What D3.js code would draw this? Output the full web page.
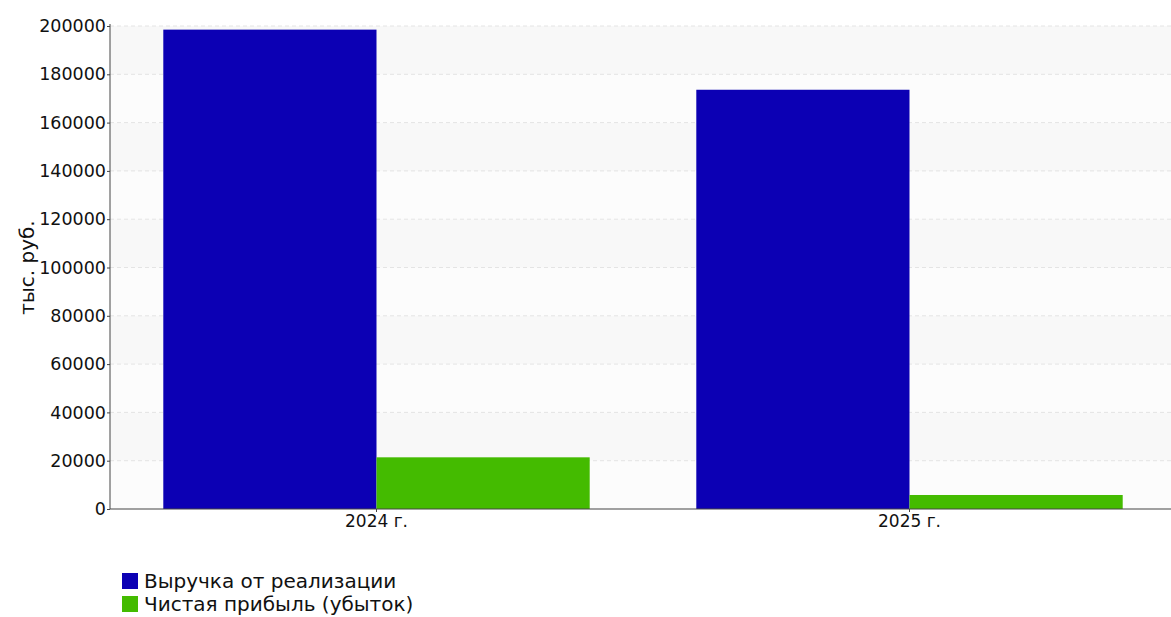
<!DOCTYPE html>
<html>
<head>
<meta charset="utf-8">
<script src="https://cdn.jsdelivr.net/npm/d3@7"></script>
<style>
  body { margin: 0; background: #fff; overflow: hidden; }
  svg { font-family: "DejaVu Sans", sans-serif; display: block; }
</style>
</head>
<body>
<svg id="chart"></svg>
<script>
// data
let years = ["2024 г.", "2025 г."];
let seriesNames = ["Выручка от реализации", "Чистая прибыль (убыток)"];
let revenue = [198500, 173600];
let profit = [21400, 5800];
let yTicks = [0, 20000, 40000, 60000, 80000, 100000, 120000, 140000, 160000, 180000, 200000];
let colors = ["#0c00b4", "#44bb00"];

let chartWidth = 1171;
let chartHeight = 617;
let plotLeft = 110;
let plotTop = 26;
let plotBottom = 509;

let svg = d3.select("#chart").attr("width", chartWidth).attr("height", chartHeight);

let y = d3.scaleLinear().domain([0, 200000]).range([plotBottom, plotTop]);
let x = d3.scaleBand().domain(years).range([plotLeft, 1176]).paddingInner(0.2).paddingOuter(0.1);
let xs = d3.scaleBand().domain(seriesNames).range([0, x.bandwidth()]);

// faint alternating bands
svg.append("g")
  .selectAll("rect")
  .data(yTicks.slice(0, -1))
  .join("rect")
  .attr("x", plotLeft)
  .attr("width", chartWidth - plotLeft)
  .attr("y", (d) => y(d + 20000))
  .attr("height", (d) => y(d) - y(d + 20000))
  .style("fill", (d, i) => (i % 2 ? "#f8f8f8" : "#fcfcfc"));

// gridlines
svg.append("g")
  .selectAll("line")
  .data(yTicks.slice(1))
  .join("line")
  .attr("x1", plotLeft)
  .attr("x2", chartWidth)
  .attr("y1", (d) => y(d))
  .attr("y2", (d) => y(d))
  .style("stroke", "#e4e4e4")
  .style("stroke-dasharray", "4,3");

let rows = years.map((yr, i) => ({ year: yr, values: [revenue[i], profit[i]] }));

svg.append("g")
  .selectAll("g")
  .data(rows)
  .join("g")
  .attr("transform", (d) => `translate(${x(d.year)},0)`)
  .selectAll("rect")
  .data((d) => d.values.map((v, i) => ({ name: seriesNames[i], v: v, c: colors[i] })))
  .join("rect")
  .attr("x", (d) => xs(d.name))
  .attr("width", xs.bandwidth())
  .attr("y", (d) => y(d.v))
  .attr("height", (d) => plotBottom - y(d.v))
  .style("fill", (d) => d.c);

// y axis
let yAxis = svg.append("g")
  .attr("transform", `translate(${plotLeft},0)`)
  .call(d3.axisLeft(y).tickValues(yTicks).tickFormat(d3.format("d")).tickSize(3).tickPadding(1));
yAxis.select(".domain").style("stroke", "#444").attr("d", `M0,${plotTop - 2}V${plotBottom}`);
yAxis.selectAll("line").style("stroke", "#444");
yAxis.selectAll("text").style("font-size", "17.5px").style("fill", "#111")
  .style("font-family", "DejaVu Sans");

// x axis
let xAxis = svg.append("g")
  .attr("transform", `translate(0,${plotBottom})`)
  .call(d3.axisBottom(x).tickSize(3).tickPadding(3).offset(0));
xAxis.select(".domain").style("stroke", "#444").attr("d", `M${plotLeft},0H${chartWidth}`);
xAxis.selectAll(".tick").attr("transform", (d) => `translate(${x(d) + x.bandwidth() / 2},0)`);
xAxis.selectAll("line").style("stroke", "#444");
xAxis.selectAll("text").style("font-size", "17px").style("fill", "#111")
  .style("font-family", "DejaVu Sans");

// y title
svg.append("text")
  .attr("transform", `translate(34,${(plotTop + plotBottom) / 2}) rotate(-90)`)
  .attr("text-anchor", "middle")
  .style("font-size", "20px")
  .style("fill", "#111")
  .text("тыс. руб.");

// legend
let legend = svg.append("g")
  .selectAll("g")
  .data(seriesNames)
  .join("g")
  .attr("transform", (d, i) => `translate(122,${573 + i * 23})`);
legend.append("rect")
  .attr("width", 16)
  .attr("height", 16)
  .style("fill", (d, i) => colors[i]);
legend.append("text")
  .attr("x", 22)
  .attr("y", 15)
  .style("font-size", "20px")
  .style("fill", "#111")
  .text((d) => d);
</script>
</body>
</html>
